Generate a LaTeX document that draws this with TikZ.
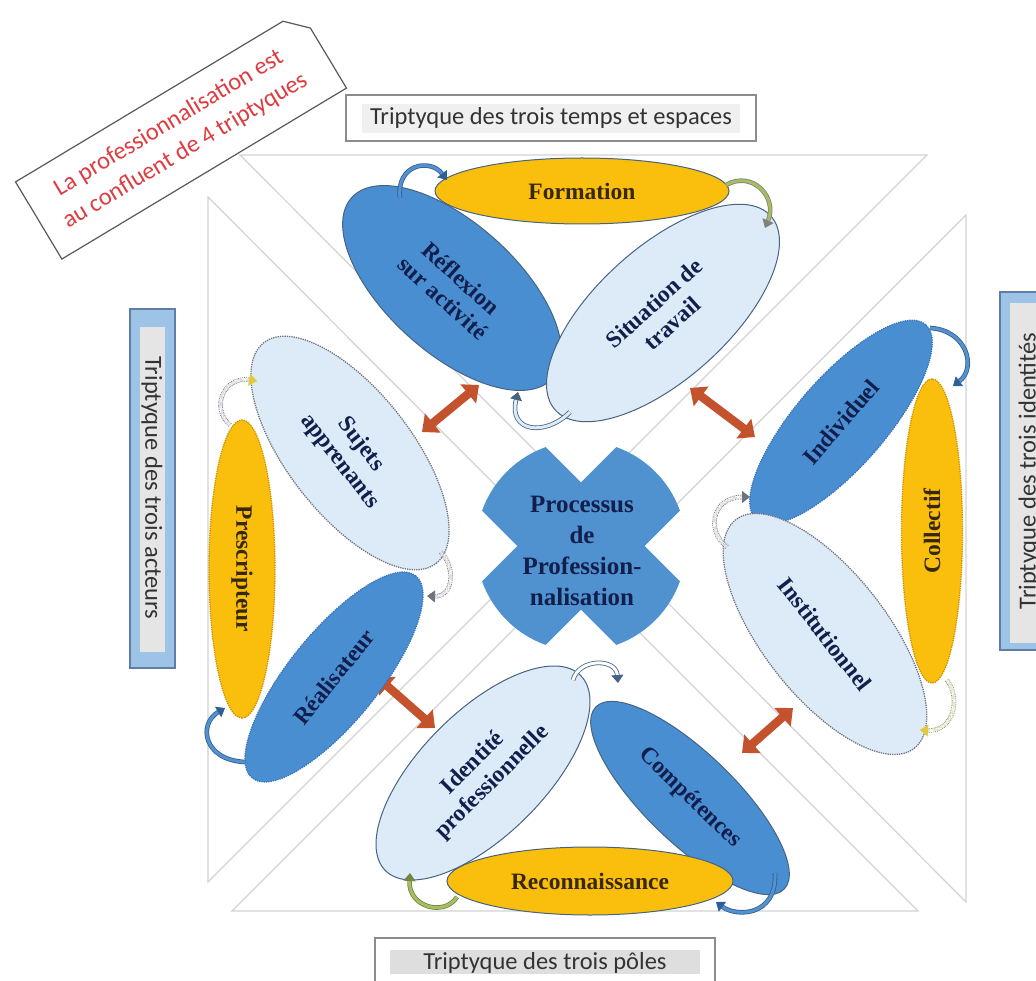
\documentclass[tikz,border=0pt]{standalone}
\usepackage{fontspec}
\setmainfont{Liberation Serif}
\newfontfamily\carl{Carlito}
\usetikzlibrary{shapes.geometric,arrows.meta}
\definecolor{dblue}{RGB}{74,142,210}
\definecolor{lblue}{RGB}{221,234,247}
\definecolor{orng}{RGB}{250,190,12}
\definecolor{edge}{RGB}{70,100,130}
\definecolor{navy}{RGB}{18,30,75}
\definecolor{brn}{RGB}{55,40,10}
\definecolor{xfill}{RGB}{80,145,208}
\definecolor{redarr}{RGB}{195,82,45}
\definecolor{calred}{RGB}{222,60,65}
\definecolor{trigray}{RGB}{210,210,210}
\definecolor{boxgray}{RGB}{140,140,140}
\definecolor{bbfill}{RGB}{157,195,230}
\definecolor{bbdraw}{RGB}{95,125,165}
\definecolor{olive}{RGB}{165,190,95}
\definecolor{cblue}{RGB}{85,145,205}
\definecolor{cblued}{RGB}{45,95,150}
\definecolor{dotgray}{RGB}{110,115,125}
\definecolor{dotorng}{RGB}{205,145,0}
\definecolor{dotblue}{RGB}{55,115,185}
\definecolor{tipyel}{RGB}{225,200,60}
\begin{document}
\begin{tikzpicture}[x=1pt,y=-1pt,
  tri/.style={draw=trigray, line width=1.2pt},
  ell/.style={ellipse, inner sep=0pt, align=center, text=navy,
    font=\bfseries\fontsize{23.5}{27}\selectfont},
  solidedge/.style={draw=edge, line width=1pt},
  dotedge/.style={densely dotted, line width=1.3pt},
  lab/.style={font=\carl\fontsize{24.5}{29}\selectfont, text=black!80, inner sep=0pt},
  boxline/.style={draw=boxgray, line width=1.2pt, fill=white},
  bluebox/.style={draw=bbdraw, line width=1.2pt, fill=bbfill},
  redarrow/.style={draw=redarr, line width=8.5pt,
    {Triangle[length=14pt,width=24pt]}-{Triangle[length=14pt,width=24pt]}},
  cva/.style={line width=0.8pt, double distance=3pt,
    -{Triangle[length=8pt,width=12pt]}},
  yeltip/.style={-{Triangle[length=8pt,width=12pt,color=tipyel]}},
]
\useasboundingbox (0,0) rectangle (1036,981);
\clip (0,0) rectangle (1036,981);

% background triangles
\draw[tri] (240,155) -- (927,155) -- (583,499) -- cycle;
\draw[tri] (208,197) -- (208,882) -- (550,540) -- cycle;
\draw[tri] (232,911) -- (918,911) -- (575,568) -- cycle;
\draw[tri] (966,215) -- (966,902) -- (623,558) -- cycle;

% callout
\begin{scope}[shift={(181,135)}, rotate=31]
\draw[draw=black!65, line width=1.2pt, fill=white]
  (-166,45) -- (-166,-45) -- (146,-45) -- (166,-25) -- (166,45) -- cycle;
\end{scope}
\node[font=\carl\fontsize{24.5}{32}\selectfont, text=calred, align=center, rotate=31]
  (callout) at (177,137) {La professionnalisation est\\au confluent de 4 triptyques};

% label boxes
\draw[boxline] (346,95) rectangle (756,141);
\fill[black!6] (362,104) rectangle (740,133);
\node[lab] (ltop) at (551,118) {Triptyque des trois temps et espaces};

\draw[boxline] (375,938) rectangle (715,1000);
\fill[black!13] (390,950) rectangle (700,974);
\node[lab] (lbot) at (545,963) {Triptyque des trois pôles};

\draw[bluebox] (130,309) rectangle (175,668);
\fill[black!10] (140,327) rectangle (165,652);
\node[lab, rotate=-90] (lleft) at (152,488) {Triptyque des trois acteurs};

\draw[bluebox] (1000,292) rectangle (1060,650);
\fill[black!10] (1010,303) rectangle (1045,643);
\node[lab, rotate=90] (lright) at (1029,471) {Triptyque des trois identités};

% central cross
\begin{scope}
\clip (581,546) circle (105);
\fill[xfill, rotate around={45:(581,546)}] (431,501) rectangle (731,591);
\fill[xfill, rotate around={-45:(581,546)}] (431,501) rectangle (731,591);
\end{scope}
\node[font=\bfseries\fontsize{25}{31}\selectfont, align=center, text=navy]
  (proc) at (582,551) {Processus\\de\\Profession-\\nalisation};

% red double arrows
\coordinate (r1a) at (422,432); \coordinate (r1b) at (479,385);
\coordinate (r2a) at (690,388); \coordinate (r2b) at (755,437);
\coordinate (r3a) at (377,677); \coordinate (r3b) at (435,728);
\coordinate (r4a) at (742,753); \coordinate (r4b) at (793,708);
\draw[redarrow] (r1a) -- (r1b);
\draw[redarrow] (r2a) -- (r2b);
\draw[redarrow] (r3a) -- (r3b);
\draw[redarrow] (r4a) -- (r4b);

% top triptych
\node[ell, solidedge, fill=orng, text=brn, minimum width=294, minimum height=66]
  (form) at (582,191) {Formation};
\node[ell, solidedge, fill=dblue, minimum width=270, minimum height=130, rotate=-42]
  (refl) at (452,288) {Réflexion\\sur activité};
\node[ell, solidedge, fill=lblue, minimum width=290, minimum height=132, rotate=42]
  (situ) at (663,313) {Situation de\\travail};

% left triptych
\node[ell, dotedge, draw=dotgray, fill=lblue, minimum width=280, minimum height=124, rotate=-52]
  (suj) at (350,453) {Sujets\\apprenants};
\node[ell, dotedge, draw=dotorng, fill=orng, text=brn, minimum width=298, minimum height=66, rotate=-90]
  (presc) at (242,569) {Prescripteur};
\node[ell, dotedge, draw=dotblue, fill=dblue, minimum width=260, minimum height=90, rotate=51]
  (real) at (334,677) {Réalisateur};

% right triptych
\node[ell, dotedge, draw=dotblue, fill=dblue, minimum width=258, minimum height=90, rotate=49]
  (indiv) at (841,422) {Individuel};
\node[ell, dotedge, draw=dotorng, fill=orng, text=brn, minimum width=304, minimum height=61, rotate=90]
  (coll) at (932,531) {Collectif};
\node[ell, dotedge, draw=dotgray, fill=lblue, minimum width=290, minimum height=124, rotate=-52]
  (inst) at (825,634) {Institutionnel};

% bottom triptych
\node[ell, solidedge, fill=lblue, minimum width=276, minimum height=124, rotate=45]
  (ident) at (483,773) {Identité\\professionnelle};
\node[ell, solidedge, fill=dblue, minimum width=262, minimum height=90, rotate=-44]
  (comp) at (690,798) {Compétences};
\node[ell, solidedge, fill=orng, text=brn, minimum width=286, minimum height=68]
  (reco) at (590,881) {Reconnaissance};

% curved connectors
\coordinate (c1a) at (400,198); \coordinate (c1b) at (447,180);
\draw[cva, draw=cblued, double=cblue] (c1a) .. controls (396,164) and (430,158) .. (c1b);
\coordinate (c2a) at (726,185); \coordinate (c2b) at (765,228);
\draw[cva, draw=black!50, double=olive] (c2a) .. controls (752,170) and (778,197) .. (c2b);
\coordinate (c3a) at (570,412); \coordinate (c3b) at (518,392);
\draw[cva, draw=edge, double=lblue] (c3a) .. controls (545,437) and (508,432) .. (c3b);

\coordinate (c4a) at (230,425); \coordinate (c4b) at (257,381);
\draw[cva, densely dotted, draw=dotgray, double=white, yeltip]
  (c4a) .. controls (210,408) and (224,376) .. (c4b);
\coordinate (c5a) at (441,552); \coordinate (c5b) at (427,596);
\draw[cva, densely dotted, draw=dotgray, double=white] (c5a) .. controls (457,570) and (452,597) .. (c5b);
\coordinate (c6a) at (245,762); \coordinate (c6b) at (225,708);
\draw[cva, draw=cblued, double=cblue] (c6a) .. controls (203,760) and (198,724) .. (c6b);

\coordinate (c7a) at (930,328); \coordinate (c7b) at (953,386);
\draw[cva, draw=cblued, double=cblue] (c7a) .. controls (967,330) and (977,368) .. (c7b);
\coordinate (c8a) at (947,680); \coordinate (c8b) at (920,730);
\draw[cva, densely dotted, draw=olive!80!black, double=white, yeltip]
  (c8a) .. controls (962,700) and (952,732) .. (c8b);
\coordinate (c9a) at (727,547); \coordinate (c9b) at (750,497);
\draw[cva, densely dotted, draw=dotgray, double=white] (c9a) .. controls (705,530) and (713,497) .. (c9b);

\coordinate (c10a) at (573,680); \coordinate (c10b) at (618,683);
\draw[cva, draw=edge, double=white] (c10a) .. controls (579,658) and (616,658) .. (c10b);
\coordinate (c11a) at (775,873); \coordinate (c11b) at (716,902);
\draw[cva, draw=cblued, double=cblue] (c11a) .. controls (777,917) and (736,917) .. (c11b);
\coordinate (c12a) at (457,897); \coordinate (c12b) at (410,873);
\draw[cva, draw=olive!70!black, double=olive] (c12a) .. controls (444,917) and (408,907) .. (c12b);
\end{tikzpicture}
\end{document}
